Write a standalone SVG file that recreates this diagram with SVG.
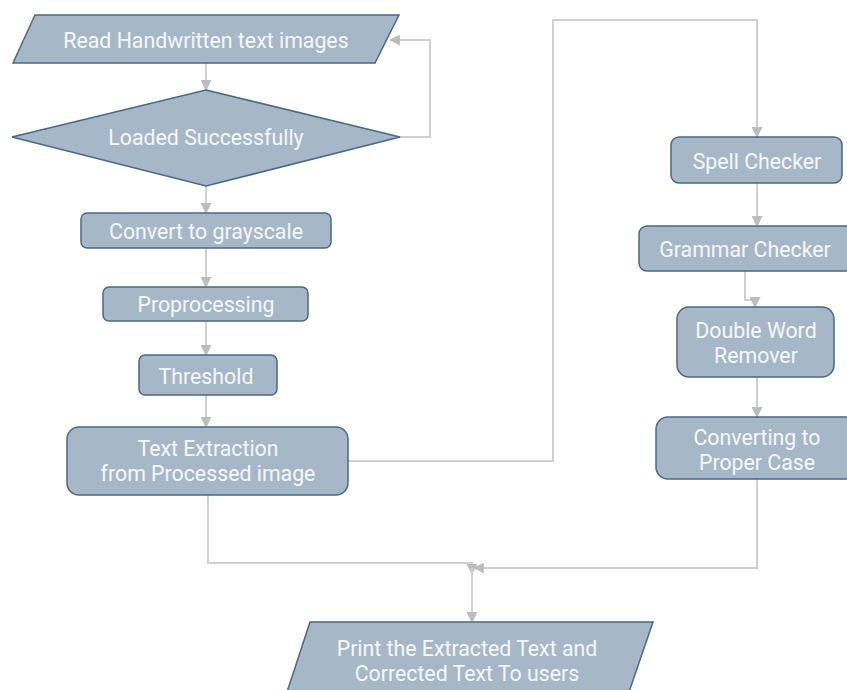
<svg xmlns="http://www.w3.org/2000/svg" width="847" height="690" viewBox="0 0 847 690">
<defs>
<style>
.n{fill:#a6b7c8;stroke:#4a6888;stroke-width:1.5}
.t{font-family:Roboto,"Liberation Sans",sans-serif;font-size:21.3px;fill:#f5f8fb;text-anchor:middle;dominant-baseline:central}
.c{fill:none;stroke:#d0d0d0;stroke-width:2}
</style>
<marker id="ah" viewBox="0 0 10 10" refX="9" refY="5" markerWidth="11" markerHeight="11" orient="auto" markerUnits="userSpaceOnUse">
<path d="M0,0 L10,5 L0,10 z" fill="#bdbdbd"/>
</marker>
</defs>
<rect width="847" height="690" fill="#ffffff"/>
<g id="connectors">
<path class="c" d="M206,63 V90" marker-end="url(#ah)"/>
<path class="c" d="M400,137 H430 V40 H390" marker-end="url(#ah)"/>
<path class="c" d="M206,186 V213" marker-end="url(#ah)"/>
<path class="c" d="M206,248 V287" marker-end="url(#ah)"/>
<path class="c" d="M206,321 V355" marker-end="url(#ah)"/>
<path class="c" d="M206,395 V427" marker-end="url(#ah)"/>
<path class="c" d="M348,461 H553 V20 H757 V137" marker-end="url(#ah)"/>
<path class="c" d="M757,183 V226" marker-end="url(#ah)"/>
<path class="c" d="M745,271 V300 H755 V307" marker-end="url(#ah)"/>
<path class="c" d="M757,377 V417" marker-end="url(#ah)"/>
<path class="c" d="M208,495 V563 H472 V574" marker-end="url(#ah)"/>
<path class="c" d="M757,479 V568 H474" marker-end="url(#ah)"/>
<path class="c" d="M472,568 V622" marker-end="url(#ah)"/>
</g>
<g id="read">
<polygon class="n" points="35,15 399,15 375,63 13,63"/>
<text class="t" x="206" y="40">Read Handwritten text images</text>
</g>
<g id="loaded">
<polygon class="n" points="206,90 400,137 206,186 12,137"/>
<text class="t" x="206" y="137">Loaded Successfully</text>
</g>
<g id="gray">
<rect class="n" x="81" y="213" width="250" height="35" rx="6"/>
<text class="t" x="206" y="231">Convert to grayscale</text>
</g>
<g id="prep">
<rect class="n" x="103" y="287" width="205" height="34" rx="6"/>
<text class="t" x="206" y="304">Proprocessing</text>
</g>
<g id="thresh">
<rect class="n" x="139" y="355" width="138" height="40" rx="6"/>
<text class="t" x="206" y="376">Threshold</text>
</g>
<g id="extract">
<rect class="n" x="67" y="427" width="281" height="68" rx="12"/>
<text class="t" x="208" y="448">Text Extraction</text>
<text class="t" x="208" y="473">from Processed image</text>
</g>
<g id="spell">
<rect class="n" x="671" y="137" width="171" height="46" rx="8"/>
<text class="t" x="757" y="161">Spell Checker</text>
</g>
<g id="grammar">
<rect class="n" x="639" y="226" width="215" height="45" rx="8"/>
<text class="t" x="745" y="249">Grammar Checker</text>
</g>
<g id="double">
<rect class="n" x="677" y="307" width="157" height="70" rx="12"/>
<text class="t" x="756" y="330">Double Word</text>
<text class="t" x="756" y="355">Remover</text>
</g>
<g id="proper">
<rect class="n" x="656" y="417" width="205" height="62" rx="12"/>
<text class="t" x="757" y="437">Converting to</text>
<text class="t" x="757" y="462">Proper Case</text>
</g>
<g id="print">
<polygon class="n" points="310,622 653,622 629,692 287,692"/>
<text class="t" x="467" y="648">Print the Extracted Text and</text>
<text class="t" x="467" y="673">Corrected Text To users</text>
</g>
</svg>
